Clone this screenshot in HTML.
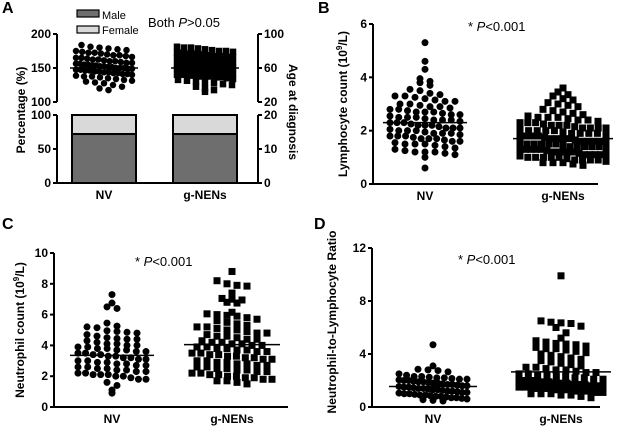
<!DOCTYPE html>
<html><head><meta charset="utf-8"><style>
body{margin:0;background:#fff}
svg{display:block;font-family:"Liberation Sans",Arial,sans-serif}
</style></head><body>
<svg id="fig" width="620" height="429" viewBox="0 0 620 429"></svg>
<script>
// ---- data ----
const groups = ["NV","g-NENs"];
const maleNV = 72, maleG = 72;
const ageNV=[87,85,84,83,82,81,80,79,78,78,77,76,75,75,74,73,72,72,71,70,70,69,68,68,67,66,66,65,65,64,64,63,63,62,62,61,61,60,60,60,59,59,58,58,57,57,56,56,55,55,54,54,53,53,52,51,50,50,49,48,47,46,45,44,43,42,40,38,36,34];
const ageG=[85,84,84,83,82,81,80,80,79,78,78,77,77,76,75,75,74,74,73,73,72,72,71,71,70,70,69,69,68,68,67,67,66,66,65,65,64,64,63,63,62,62,61,61,60,60,60,59,59,58,58,57,57,56,56,55,55,54,54,53,53,52,52,51,51,50,50,49,49,48,47,46,45,44,43,42,41,40,38,36,34,32];
const ageMeans=[60,60];
const lymNV=[5.3,4.6,4.3,3.95,3.85,3.8,3.7,3.55,3.5,3.4,3.35,3.3,3.3,3.25,3.2,3.15,3.1,3.1,3.0,3.0,2.95,2.9,2.9,2.85,2.8,2.8,2.75,2.7,2.7,2.7,2.65,2.6,2.6,2.55,2.5,2.5,2.5,2.45,2.4,2.4,2.4,2.35,2.3,2.3,2.3,2.25,2.2,2.2,2.2,2.15,2.1,2.1,2.1,2.05,2.0,2.0,2.0,1.95,1.9,1.9,1.9,1.85,1.8,1.8,1.8,1.75,1.7,1.7,1.7,1.65,1.6,1.6,1.55,1.5,1.5,1.5,1.45,1.4,1.35,1.3,1.25,1.2,1.2,1.2,1.15,1.1,1.0,0.6];
const lymG=[3.6,3.45,3.35,3.3,3.2,3.15,3.05,3.0,2.95,2.9,2.8,2.75,2.7,2.65,2.6,2.55,2.5,2.5,2.5,2.45,2.4,2.4,2.35,2.3,2.3,2.3,2.25,2.2,2.2,2.2,2.15,2.1,2.1,2.1,2.1,2.05,2.0,2.0,2.0,2.0,1.95,1.9,1.9,1.9,1.9,1.85,1.8,1.8,1.8,1.8,1.75,1.7,1.7,1.7,1.7,1.65,1.6,1.6,1.6,1.6,1.6,1.55,1.5,1.5,1.5,1.5,1.5,1.45,1.4,1.4,1.4,1.4,1.4,1.35,1.3,1.3,1.3,1.3,1.3,1.25,1.2,1.2,1.2,1.2,1.2,1.15,1.1,1.1,1.1,1.1,1.1,1.05,1.0,1.0,1.0,1.0,1.0,0.95,0.9,0.9,0.9,0.9,0.85,0.8,0.8,0.8,0.75,0.7];
const lymMeans=[2.3,1.7];
const neuNV=[7.3,6.75,6.5,6.4,5.45,5.25,5.2,5.15,4.95,4.9,4.85,4.8,4.7,4.6,4.5,4.45,4.4,4.4,4.3,4.2,4.1,4.1,4.0,4.0,3.9,3.9,3.8,3.8,3.7,3.7,3.6,3.6,3.5,3.5,3.4,3.4,3.3,3.3,3.2,3.2,3.1,3.1,3.0,3.0,2.9,2.9,2.8,2.8,2.7,2.7,2.6,2.6,2.5,2.5,2.4,2.4,2.3,2.3,2.2,2.2,2.1,2.1,2.1,2.0,2.0,1.9,1.8,1.8,1.6,1.4,1.1,0.9];
const neuG=[8.8,8.2,8.0,7.9,7.85,7.4,7.05,7.0,6.95,6.8,6.75,6.15,6.05,6.0,5.95,5.9,5.8,5.7,5.6,5.5,5.4,5.3,5.2,5.2,5.1,5.0,5.0,4.9,4.8,4.8,4.7,4.6,4.6,4.5,4.4,4.4,4.3,4.2,4.2,4.1,4.1,4.0,4.0,3.9,3.9,3.8,3.8,3.7,3.7,3.6,3.6,3.5,3.5,3.4,3.4,3.3,3.3,3.2,3.2,3.1,3.1,3.0,3.0,2.9,2.9,2.8,2.8,2.7,2.7,2.6,2.6,2.5,2.5,2.4,2.4,2.3,2.3,2.2,2.2,2.1,2.1,2.0,2.0,1.9,1.9,1.8,1.8,1.7,1.7,1.6,1.5];
const neuMeans=[3.35,4.05];
const nlrNV=[4.7,3.1,2.85,2.8,2.75,2.65,2.5,2.4,2.3,2.3,2.25,2.2,2.2,2.15,2.1,2.1,2.05,2.0,2.0,1.95,1.9,1.9,1.85,1.8,1.8,1.75,1.7,1.7,1.65,1.6,1.6,1.55,1.5,1.5,1.45,1.4,1.4,1.35,1.3,1.3,1.25,1.2,1.2,1.15,1.1,1.1,1.05,1.0,1.0,0.95,0.9,0.9,0.85,0.8,0.8,0.75,0.7,0.7,0.65,0.6,0.55,0.5,0.45];
const nlrG=[9.9,6.5,6.4,6.35,6.3,6.1,6.0,5.6,5.2,5.0,4.9,4.8,4.75,4.7,4.6,4.5,4.4,4.4,4.3,4.2,4.1,4.0,3.9,3.8,3.7,3.6,3.5,3.4,3.3,3.2,3.1,3.0,3.0,2.9,2.8,2.8,2.7,2.6,2.6,2.5,2.5,2.4,2.4,2.3,2.3,2.2,2.2,2.1,2.1,2.0,2.0,2.0,1.9,1.9,1.9,1.8,1.8,1.8,1.7,1.7,1.7,1.6,1.6,1.6,1.5,1.5,1.5,1.4,1.4,1.4,1.3,1.3,1.3,1.2,1.2,1.2,1.1,1.1,1.1,1.0,1.0,1.0,0.9,0.9,0.8,0.7];
const nlrMeans=[1.55,2.65];
const ticksPct=[0,50,100], ticksPctUp=[100,150,200], ticksAgeLow=[0,10,20], ticksAgeUp=[20,60,100];
const ticksLym=[0,2,4,6], ticksNeu=[0,2,4,6,8,10], ticksNlr=[0,4,8,12];

const NS="http://www.w3.org/2000/svg", svg=document.getElementById('fig');
function el(tag,attrs,parent){const e=document.createElementNS(NS,tag);for(const k in attrs)e.setAttribute(k,attrs[k]);(parent||svg).appendChild(e);return e;}
function txt(s,attrs,name,parent){const e=el('text',attrs,parent);e.textContent=s;


return e;}
function lin(x1,y1,x2,y2,w,name){const e=el('line',{x1,y1,x2,y2,stroke:'#000','stroke-width':w||2});


return e;}
function scale(d0,d1,r0,r1){return v=>r0+(v-d0)/(d1-d0)*(r1-r0);}
function yAxis(x,y,ticks,side,name){
  const top=Math.min(...ticks.map(y)),bot=Math.max(...ticks.map(y));
  lin(x,top,x,bot,2,name+'-line');
  ticks.forEach(t=>{const yy=y(t);const d=side<0?-4:4;lin(x,yy,x+d,yy,2,name+'-tick');
    txt(String(t),{x:x+(side<0?-6:6),y:yy+4,'font-size':12,'font-weight':'bold','text-anchor':side<0?'end':'start'},name+'-tick-label');});
}
function swarm(vals,cx,y,step,maxW,shape,name,size,gap){
  const rows={};vals.forEach(v=>{const r=Math.round(y(v)/step);(rows[r]=rows[r]||[]).push(v);});
  Object.keys(rows).forEach(r=>{const arr=rows[r];const n=arr.length;const sp=n>1?Math.min(gap,maxW/(n-1)):0;
    arr.forEach((v,i)=>{const px=cx+(i-(n-1)/2)*sp,py=y(v);let m;
      if(shape==='c')m=el('circle',{cx:px,cy:py,r:size/2,fill:'#000'});
      else m=el('rect',{x:px-size/2,y:py-size/2,width:size,height:size,fill:'#000'});
      
      
    });});
}
function meanLine(cx,yy,hw,name){lin(cx-hw,yy,cx+hw,yy,1.5,name);}
function pText(x,y,name,s){const t=txt('',{x,y,'font-size':13},name);
 const a=el('tspan',{},t);a.textContent=s||'* ';const b=el('tspan',{'font-style':'italic'},t);b.textContent='P';const c=el('tspan',{},t);c.textContent=s?'>0.05':'<0.001';}
function xLabels(xs,y,name){groups.forEach((g,i)=>txt(g,{x:xs[i],y:y,'font-size':12,'font-weight':'bold','text-anchor':'middle'},name+'-label-'+g));}
function rotTitle(x,y,ang,parts,name){const t=txt('',{x:0,y:0,'font-size':12,'font-weight':'bold','text-anchor':'middle',transform:`translate(${x},${y}) rotate(${ang})`},name);
 parts.forEach(p=>{const s=el('tspan',p[1]||{},t);s.textContent=p[0];});}
function letter(s,x,y){txt(s,{x,y,'font-size':16,'font-weight':'bold'},'panel-label-'+s.toLowerCase());}

// ---- Panel A ----
letter('A',2,13);
const yPctL=scale(0,100,183,115), yPctU=scale(100,200,102,34);
const yAgeU=scale(20,100,102,34), yAgeL=scale(0,20,183,115);
lin(57,183,258,183,2,'a-x-axis');
yAxis(57,yPctL,ticksPct,-1,'a-left-axis-lower');
yAxis(57,yPctU,ticksPctUp,-1,'a-left-axis-upper');
yAxis(258,yAgeL,ticksAgeLow,1,'a-right-axis-lower');
yAxis(258,yAgeU,ticksAgeUp,1,'a-right-axis-upper');
const aX=[104,205];
[maleNV,maleG].forEach((m,i)=>{
  const r1=el('rect',{x:aX[i]-32,y:yPctL(100),width:64,height:yPctL(m)-yPctL(100),fill:'#d9d9d9',stroke:'#000','stroke-width':2});
  
  
  const r2=el('rect',{x:aX[i]-32,y:yPctL(m),width:64,height:yPctL(0)-yPctL(m),fill:'#6e6e6e',stroke:'#000','stroke-width':2});
  
  
});
swarm(ageNV,aX[0],yAgeU,6,56,'c','age-point-nv',6.5,9);
swarm(ageG,aX[1],yAgeU,5.5,56,'s','age-point-gnens',6.5,9);
meanLine(aX[0],yAgeU(ageMeans[0]),34,'age-mean-nv');
meanLine(aX[1],yAgeU(ageMeans[1]),34,'age-mean-gnens');
xLabels(aX,199,'a-x');
rotTitle(25,110,-90,[['Percentage (%)']],'a-left-axis-title');
rotTitle(289,112,90,[['Age at diagnosis']],'a-right-axis-title');
let lg=el('rect',{x:77,y:10,width:22,height:7,fill:'#6e6e6e',stroke:'#000','stroke-width':1.2});

lg=el('rect',{x:77,y:26,width:22,height:7,fill:'#d9d9d9',stroke:'#000','stroke-width':1.2});

txt('Male',{x:102,y:19,'font-size':11},'legend-male-label');
txt('Female',{x:102,y:34,'font-size':11},'legend-female-label');
pText(148,27,'a-p-value','Both ');

// ---- Panel B ----
letter('B',318,13);
const yB=scale(0,6,184,24);
lin(373,184,598,184,2,'b-x-axis');
yAxis(373,yB,ticksLym,-1,'b-y-axis');
const bX=[425,563];
swarm(lymNV,bX[0],yB,6.6,70,'c','lymphocyte-point-nv',7,10);
swarm(lymG,bX[1],yB,6.6,86,'s','lymphocyte-point-gnens',7,10);
meanLine(bX[0],yB(lymMeans[0]),42,'lymphocyte-mean-nv');
meanLine(bX[1],yB(lymMeans[1]),50,'lymphocyte-mean-gnens');
xLabels(bX,200,'b-x');
rotTitle(347,104,-90,[['Lymphocyte count (10'],['9',{'font-size':8,dy:-5}],['/L)',{dy:5}]],'b-y-axis-title');
pText(468,31,'b-p-value');

// ---- Panel C ----
letter('C',2,229);
const yC=scale(0,10,407,253);
lin(54,407,288,407,2,'c-x-axis');
yAxis(54,yC,ticksNeu,-1,'c-y-axis');
const cX=[112,232];
swarm(neuNV,cX[0],yC,6.6,68,'c','neutrophil-point-nv',7,10);
swarm(neuG,cX[1],yC,6.6,80,'s','neutrophil-point-gnens',7,10);
meanLine(cX[0],yC(neuMeans[0]),42,'neutrophil-mean-nv');
meanLine(cX[1],yC(neuMeans[1]),48,'neutrophil-mean-gnens');
xLabels(cX,423,'c-x');
rotTitle(24,330,-90,[['Neutrophil count (10'],['9',{'font-size':8,dy:-5}],['/L)',{dy:5}]],'c-y-axis-title');
pText(135,266,'c-p-value');

// ---- Panel D ----
letter('D',314,229);
const yD=scale(0,12,407,248);
lin(372,407,600,407,2,'d-x-axis');
yAxis(372,yD,ticksNlr,-1,'d-y-axis');
const dX=[433,561];
swarm(nlrNV,dX[0],yD,6.6,68,'c','nlr-point-nv',7,10);
swarm(nlrG,dX[1],yD,6.6,84,'s','nlr-point-gnens',7,10);
meanLine(dX[0],yD(nlrMeans[0]),44,'nlr-mean-nv');
meanLine(dX[1],yD(nlrMeans[1]),50,'nlr-mean-gnens');
xLabels(dX,423,'d-x');
rotTitle(336,322,-90,[['Neutrophil-to-Lymphocyte Ratio']],'d-y-axis-title');
pText(458,264,'d-p-value');
</script>
</body></html>
